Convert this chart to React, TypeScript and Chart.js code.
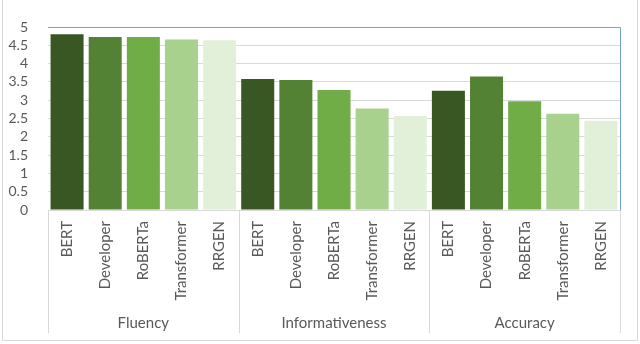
import React, { useEffect, useRef } from 'react';
import { Chart, registerables } from 'chart.js';

Chart.register(...registerables);

const groups = ['Fluency', 'Informativeness', 'Accuracy'];
const models = ['BERT', 'Developer', 'RoBERTa', 'Transformer', 'RRGEN'];
const fluency = [4.8, 4.73, 4.73, 4.66, 4.64];
const informativeness = [3.58, 3.55, 3.28, 2.77, 2.57];
const accuracy = [3.26, 3.65, 2.97, 2.63, 2.44];
const modelColors = ['#385723', '#548235', '#70AD47', '#A9D18E', '#E2F0D9'];
const yMin = 0;
const yMax = 5;
const yStep = 0.5;

const FONT = 'Lato, "Open Sans", sans-serif';
const TEXT = '#595959';
const GRID = '#D9D9D9';

const groupPlugin = {
  id: 'groupAxis',
  afterDraw(chart: any) {
    const ctx = chart.ctx;
    const xs = chart.scales.x;
    const area = chart.chartArea;
    const n = xs.ticks.length;
    const cat = (area.right - area.left) / n;
    ctx.save();
    ctx.strokeStyle = GRID;
    ctx.lineWidth = 1;
    ctx.strokeRect(2.5, -2, chart.width - 5, chart.height - 1.5);
    ctx.strokeStyle = GRID;
    for (let g = 0; g <= groups.length; g++) {
      const x = Math.round(area.left + g * models.length * cat) + 0.5;
      ctx.beginPath();
      ctx.moveTo(x, area.bottom);
      ctx.lineTo(x, area.bottom + 123);
      ctx.stroke();
    }
    ctx.fillStyle = TEXT;
    ctx.font = '15px ' + FONT;
    ctx.textAlign = 'center';
    ctx.textBaseline = 'middle';
    groups.forEach((g, i) => {
      const cx = area.left + (i + 0.5) * models.length * cat;
      ctx.fillText(g, cx, area.bottom + 113);
    });
    ctx.strokeStyle = '#6FA1DA';
    ctx.beginPath();
    ctx.moveTo(area.left, area.top + 0.5);
    ctx.lineTo(area.right + 0.5, area.top + 0.5);
    ctx.lineTo(area.right + 0.5, area.bottom);
    ctx.stroke();
    ctx.restore();
  },
};

export default function App() {
  const ref = useRef<HTMLCanvasElement>(null);
  useEffect(() => {
    document.body.style.margin = '0';
    const labels: string[] = [];
    const values: number[] = [];
    const colors: string[] = [];
    const series = [fluency, informativeness, accuracy];
    series.forEach((s) => {
      s.forEach((v, i) => {
        labels.push(models[i]);
        values.push(v);
        colors.push(modelColors[i]);
      });
    });
    const chart = new Chart(ref.current as HTMLCanvasElement, {
      type: 'bar',
      data: {
        labels,
        datasets: [
          {
            data: values,
            backgroundColor: colors,
            borderWidth: 0,
            categoryPercentage: 1,
            barPercentage: 0.866,
          },
        ],
      },
      options: {
        animation: false,
        responsive: false,
        maintainAspectRatio: false,
        layout: { padding: { top: 25, right: 20, bottom: 0, left: 0 } },
        plugins: { legend: { display: false }, tooltip: { enabled: false }, title: { display: false } },
        scales: {
          x: {
            grid: { display: false, drawTicks: false },
            border: { display: true, color: GRID },
            ticks: {
              autoSkip: false,
              minRotation: 90,
              maxRotation: 90,
              padding: 11,
              color: TEXT,
              font: { family: FONT, size: 15 },
            },
            afterFit: (s: any) => {
              s.height = 134;
            },
          },
          y: {
            min: yMin,
            max: yMax,
            grid: { color: GRID, drawTicks: false },
            border: { display: false },
            ticks: {
              stepSize: yStep,
              autoSkip: false,
              maxTicksLimit: 20,
              padding: 20,
              color: TEXT,
              font: { family: FONT, size: 14, lineHeight: 1 },
              callback: (v: any) => String(v),
            },
            afterFit: (s: any) => {
              s.width = 48;
            },
          },
        },
      },
      plugins: [groupPlugin],
    });
    return () => chart.destroy();
  }, []);
  return (
    <div style={{ width: 640, height: 344 }}>
      <canvas ref={ref} width={640} height={344} style={{ display: 'block' }} />
    </div>
  );
}
